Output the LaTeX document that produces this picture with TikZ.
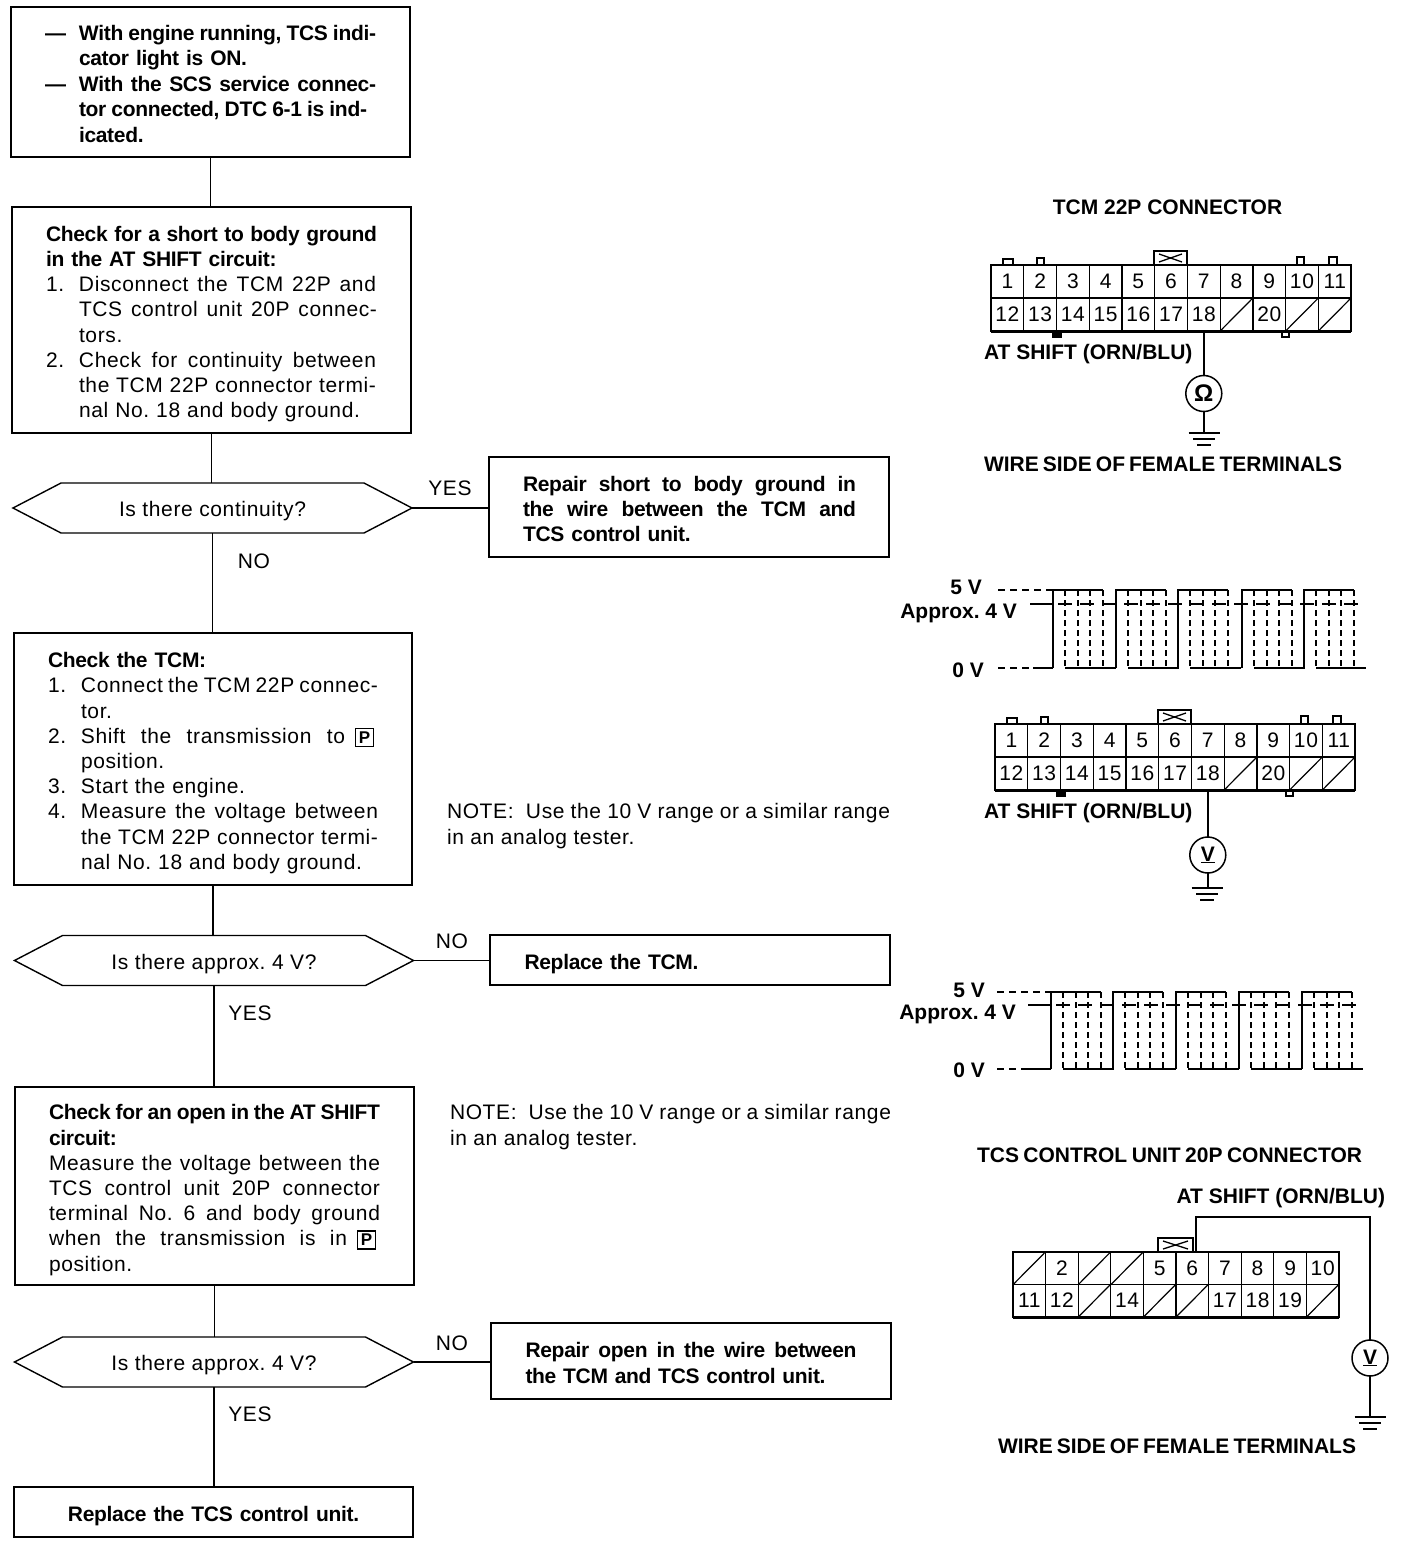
\documentclass[tikz,border=0pt]{standalone}
\usepackage{fontspec}
\setmainfont{Liberation Sans}[LetterSpace=3,BoldFeatures={LetterSpace=-1.5}]
\newfontfamily\headfont{Liberation Sans}
\usetikzlibrary{shapes.symbols}
\frenchspacing
\newcommand\jline[2]{\makebox[#1pt][s]{\spaceskip=5.8pt plus 40pt minus 3pt\relax #2}}
\newcommand\numline[3]{\makebox[33pt][l]{#1}\jline{#2}{#3}}
\newcommand\numplain[2]{\makebox[33pt][l]{#1}#2}
\newcommand\indentl{\hspace*{33pt}}
\newcommand\dashline[2]{\makebox[34pt][l]{---}\jline{#1}{#2}}
\newcommand\topfix{\rule{0pt}{24pt}}
\newcommand\botfix{\rule[-5pt]{0pt}{5pt}}
\newcommand\hexfix{\rule{0pt}{22pt}\rule[-5pt]{0pt}{5pt}}
\newcommand\boxP{{\fboxsep=2.5pt\fboxrule=1.3pt\fbox{\fontsize{17}{17}\selectfont\bfseries P}}}
\tikzset{
  x=1pt,y=-1pt,
  every node/.style={font=\fontsize{21}{25.2}\selectfont,outer sep=0pt},
  box/.style={draw,line width=1.4,rectangle,inner xsep=34,inner ysep=0,text width=331,align=left},
  flow/.style={line width=1.4},
  hex/.style={draw,line width=1.4,signal,signal to=east and west,signal pointer angle=55,minimum width=399,minimum height=50,inner sep=0},
  lab/.style={inner sep=0},
  head/.style={inner sep=0,font=\headfont\fontsize{21}{25.2}\selectfont\bfseries},
  cell/.style={draw,line width=1.2,rectangle,minimum width=32.7,minimum height=33,inner sep=0},
  wire/.style={line width=1.5},
  meter/.style={draw,line width=1.5,circle,minimum size=36,inner sep=0,font=\fontsize{21}{21}\selectfont\bfseries},
  solidw/.style={line width=2.5},
  dashw/.style={line width=2,dash pattern=on 6pt off 4pt},
}
% ground symbol hanging from coordinate
\newcommand\groundsym[2]{%
  \draw[wire] (#1-15.5,#2) -- (#1+15.5,#2);
  \draw[wire] (#1-11,#2+6) -- (#1+11,#2+6);
  \draw[wire] (#1-7,#2+12) -- (#1+7,#2+12);
}
% 22P connector, local coordinates
\newcommand\tcmconn[1]{%
  \foreach \lab/\c in {1/0,2/1,3/2,4/3,5/4,6/5,7/6,8/7,9/8,10/9,11/10}
    \node[cell] (#1-\lab) at ({\c*32.73+16.4},16.5) {\lab};
  \foreach \lab/\c in {12/0,13/1,14/2,15/3,16/4,17/5,18/6,20/8}
    \node[cell] (#1-\lab) at ({\c*32.73+16.4},49.5) {\lab};
  \foreach \lab/\c in {19/7,21/9,22/10}{
    \node[cell] (#1-\lab) at ({\c*32.73+16.4},49.5) {};
    \draw[line width=1.2] (#1-\lab.south west) -- (#1-\lab.north east);
  }
  \draw[line width=3] (0,66) -- (360,66);
  \draw[line width=1.5] (0,0) -- (360,0);
  \draw[line width=1.5] (12,0) -- (12,-6) -- (22,-6) -- (22,0);
  \draw[line width=1.5] (46,0) -- (46,-7) -- (53,-7) -- (53,0);
  \draw[line width=1.5] (306,0) -- (306,-8) -- (313,-8) -- (313,0);
  \draw[line width=1.5] (338,0) -- (338,-8) -- (346,-8) -- (346,0);
  \draw[line width=2,fill=black] (62,66) rectangle (70,72);
  \draw[line width=2] (291,66) rectangle (298,72);
  \draw[line width=1.8] (163,0) -- (163,-14) -- (196,-14) -- (196,0);
  \draw[line width=1.3] (168,-11) -- (191,-3) (168,-3) -- (191,-11);
}
% waveform: #1 y5, #2 y4, #3 y0, #4 list of rises, #5 x start labels dash, #6 x left of 0 solid, #7 x right end, #8 x left of 4V line, #9 x first rise
\newcommand\wave[9]{%
  \draw[line width=1.5,dash pattern=on 7pt off 5pt] (#5,#1) -- (#9,#1);
  \draw[line width=1.5,dash pattern=on 7pt off 5pt] (#5,#3) -- (#6,#3);
  \draw[line width=2.5] (#6,#3) -- (#9,#3);
  \draw[line width=1.5] (#8,#2) -- (#9,#2);
  \draw[line width=1.5,dash pattern=on 14pt off 8pt] (#9+5,#2) -- (#7-3,#2);
  \foreach \r [count=\k] in {#4}{
    \draw[solidw] (\r,#3) -- (\r,#1) -- (\r+50,#1);
    \draw[dashw] (\r+12,#1) -- (\r+12,#3);
    \draw[dashw] (\r+24.5,#1) -- (\r+24.5,#3);
    \draw[dashw] (\r+37,#1) -- (\r+37,#3);
    \draw[dashw] (\r+50,#1) -- (\r+50,#3);
    \ifnum\k<5 \draw[solidw] (\r+12,#3) -- (\r+62.7,#3);
    \else \draw[solidw] (\r+12,#3) -- (#7,#3); \fi
  }
}
\begin{document}
\begin{tikzpicture}
\useasboundingbox (0,0) rectangle (1408,1544);
% ---------- flow boxes
\node[box,minimum height=150,font=\fontsize{21}{25.5}\selectfont] (b1) at (210.5,82) {\topfix\bfseries
  \dashline{297}{With engine running, TCS indi-}\\
  \hspace*{34pt}cator light is ON.\\
  \dashline{297}{With the SCS service connec-}\\
  \hspace*{34pt}\jline{288}{tor connected, DTC 6-1 is ind-}\\
  \hspace*{34pt}icated.\botfix};
\node[box,minimum height=226] (b2) at (211.5,320) {\topfix\bfseries
  \jline{331}{Check for a short to body ground}\\
  in the AT SHIFT circuit:\\\mdseries
  \numline{1.}{297}{Disconnect the TCM 22P and}\\
  \indentl\jline{298}{TCS control unit 20P connec-}\\
  \indentl tors.\\
  \numline{2.}{297}{Check for continuity between}\\
  \indentl\jline{297}{the TCM 22P connector termi-}\\
  \indentl\jline{281}{nal No. 18 and body ground.}\botfix};
\node[hex] (d1) at (212.5,508) {\hexfix Is there continuity?};
\node[box,minimum height=100,text width=332] (r1) at (689,507) {\topfix\bfseries
  \jline{333}{Repair short to body ground in}\\
  \jline{333}{the wire between the TCM and}\\
  TCS control unit.\botfix};
\node[box,minimum height=252,text width=330] (b3) at (213,759) {\topfix\bfseries
  Check the TCM:\\\mdseries
  \numline{1.}{297}{Connect the TCM 22P connec-}\\
  \indentl tor.\\
  \makebox[33pt][l]{2.}\jline{264}{Shift the transmission to}\hspace*{10pt}\boxP\\
  \indentl position.\\
  \numplain{3.}{Start the engine.}\\
  \numline{4.}{297}{Measure the voltage between}\\
  \indentl\jline{297}{the TCM 22P connector termi-}\\
  \indentl\jline{281}{nal No. 18 and body ground.}\botfix};
\node[hex] (d2) at (214,960.5) {\hexfix Is there approx. 4 V?};
\node[box,minimum height=50,text width=331,inner xsep=34.5] (r2) at (690,960) {\topfix\bfseries Replace the TCM.\botfix};
\node[box,minimum height=198] (b4) at (214.5,1186) {\topfix\bfseries
  \jline{331}{Check for an open in the AT SHIFT}\\
  circuit:\\\mdseries
  \jline{331}{Measure the voltage between the}\\
  \jline{331}{TCS control unit 20P connector}\\
  \jline{331}{terminal No. 6 and body ground}\\
  \jline{298}{when the transmission is in}\hspace*{10pt}\boxP\\
  position.\botfix};
\node[hex] (d3) at (214,1362) {\hexfix Is there approx. 4 V?};
\node[box,minimum height=76,text width=331,inner xsep=34.5] (r3) at (691,1361) {\topfix\bfseries
  \jline{331}{Repair open in the wire between}\\
  \jline{300}{the TCM and TCS control unit.}\botfix};
\node[box,minimum height=50,align=center] (b5) at (213.5,1512) {\topfix\bfseries Replace the TCS control unit.\botfix};
% ---------- flow connectors
\draw[flow] (b1.south) -- (b1.south |- b2.north);
\draw[flow] (b2.south) -- (b2.south |- d1.north);
\draw[flow] (d1.south) -- (d1.south |- b3.north);
\draw[flow] (b3.south) -- (b3.south |- d2.north);
\draw[flow] (d2.south) -- (d2.south |- b4.north);
\draw[flow] (b4.south) -- (b4.south |- d3.north);
\draw[flow] (d3.south) -- (d3.south |- b5.north);
\draw[flow] (d1.east) -- (r1.west |- d1.east);
\draw[flow] (d2.east) -- (r2.west |- d2.east);
\draw[flow] (d3.east) -- (r3.west |- d3.east);
% ---------- branch labels
\node[lab] (l1) at (450,488) {YES};
\node[lab] (l2) at (254,561) {NO};
\node[lab] (l3) at (452,941) {NO};
\node[lab] (l4) at (250,1013) {YES};
\node[lab] (l5) at (452,1343) {NO};
\node[lab] (l6) at (250,1414) {YES};
% ---------- notes
\node[lab,anchor=north west,align=left,font=\fontsize{21}{26}\selectfont] (n1) at (447,803) {\jline{443}{NOTE:\ \ Use the 10 V range or a similar range}\\in an analog tester.};
\node[lab,anchor=north west,align=left,font=\fontsize{21}{26}\selectfont] (n2) at (450,1104) {\jline{441}{NOTE:\ \ Use the 10 V range or a similar range}\\in an analog tester.};
% ---------- connector 1
\node[head] (h1) at (1167.5,207) {TCM 22P CONNECTOR};
\begin{scope}[shift={(991,265)}]\tcmconn{a}\end{scope}
\node[head,anchor=west] (s1) at (984,354) {AT SHIFT (ORN/BLU)};
\node[meter,font=\fontsize{24}{24}\selectfont\bfseries] (m1) at (a-18.south |- 0,393.5) {Ω};
\draw[wire] (a-18.south) -- (m1.north);
\coordinate (g1) at (m1.south |- 0,433);
\draw[wire] (m1.south) -- (g1);
\groundsym{1204}{433}
\node[head,anchor=west] (w1) at (984,464) {\jline{358}{WIRE SIDE OF FEMALE TERMINALS}};
% ---------- waveform 1
\node[head,anchor=east] (v51) at (982,587) {5 V};
\node[head,anchor=east] (v41) at (1017,613) {Approx. 4 V};
\node[head,anchor=east] (v01) at (984,670) {0 V};
\wave{590}{604}{668}{1053,1116,1178,1242,1304}{998}{1033}{1366}{1030}{1053}
% ---------- connector 2
\begin{scope}[shift={(995,724)}]\tcmconn{b}\end{scope}
\node[head,anchor=west] (s2) at (984,813) {AT SHIFT (ORN/BLU)};
\node[meter] (m2) at (b-18.south |- 0,855) {\underline{V}};
\draw[wire] (b-18.south) -- (m2.north);
\coordinate (g2) at (m2.south |- 0,888);
\draw[wire] (m2.south) -- (g2);
\groundsym{1207}{888}
% ---------- waveform 2
\node[head,anchor=east] (v52) at (985,990) {5 V};
\node[head,anchor=east] (v42) at (1016,1014) {Approx. 4 V};
\node[head,anchor=east] (v02) at (985,1070) {0 V};
\wave{992}{1005}{1069}{1051,1113,1176,1239,1302}{997}{1028}{1363}{1028}{1051}
% ---------- connector 3
\node[head] (h3) at (1169.5,1155) {\jline{385}{TCS CONTROL UNIT 20P CONNECTOR}};
\node[head,anchor=east] (s3) at (1385,1198) {AT SHIFT (ORN/BLU)};
\begin{scope}[shift={(1013,1252)}]
  \foreach \lab/\c in {2/1,5/4,6/5,7/6,8/7,9/8,10/9}
    \node[cell] (c-\lab) at ({\c*32.6+16.3},16.2) {\lab};
  \foreach \lab/\c in {11/0,12/1,14/3,17/6,18/7,19/8}
    \node[cell] (c-\lab) at ({\c*32.6+16.3},48.6) {\lab};
  \foreach \lab/\c/\r in {1/0/16.2,3/2/16.2,4/3/16.2,13/2/48.6,15/4/48.6,16/5/48.6,20/9/48.6}{
    \node[cell] (c-\lab) at ({\c*32.6+16.3},\r) {};
    \draw[line width=1.2] (c-\lab.south west) -- (c-\lab.north east);
  }
  \draw[line width=3] (0,65) -- (326,65);
  \draw[line width=2] (0,0) -- (326,0);
  \draw[line width=1.8] (145,0) -- (145,-14) -- (180,-14) -- (180,0);
  \draw[line width=1.3] (150,-11) -- (175,-3) (150,-3) -- (175,-11);
\end{scope}
\node[meter] (m3) at (1370,1358) {\underline{V}};
\coordinate (t3) at (1196,1252);
\draw[wire] (t3) |- (1370,1217) -- (m3.north);
\coordinate (g3) at (m3.south |- 0,1417);
\draw[wire] (m3.south) -- (g3);
\groundsym{1370}{1417}
\node[head] (w3) at (1177,1446) {\jline{358}{WIRE SIDE OF FEMALE TERMINALS}};
\end{tikzpicture}
\end{document}
